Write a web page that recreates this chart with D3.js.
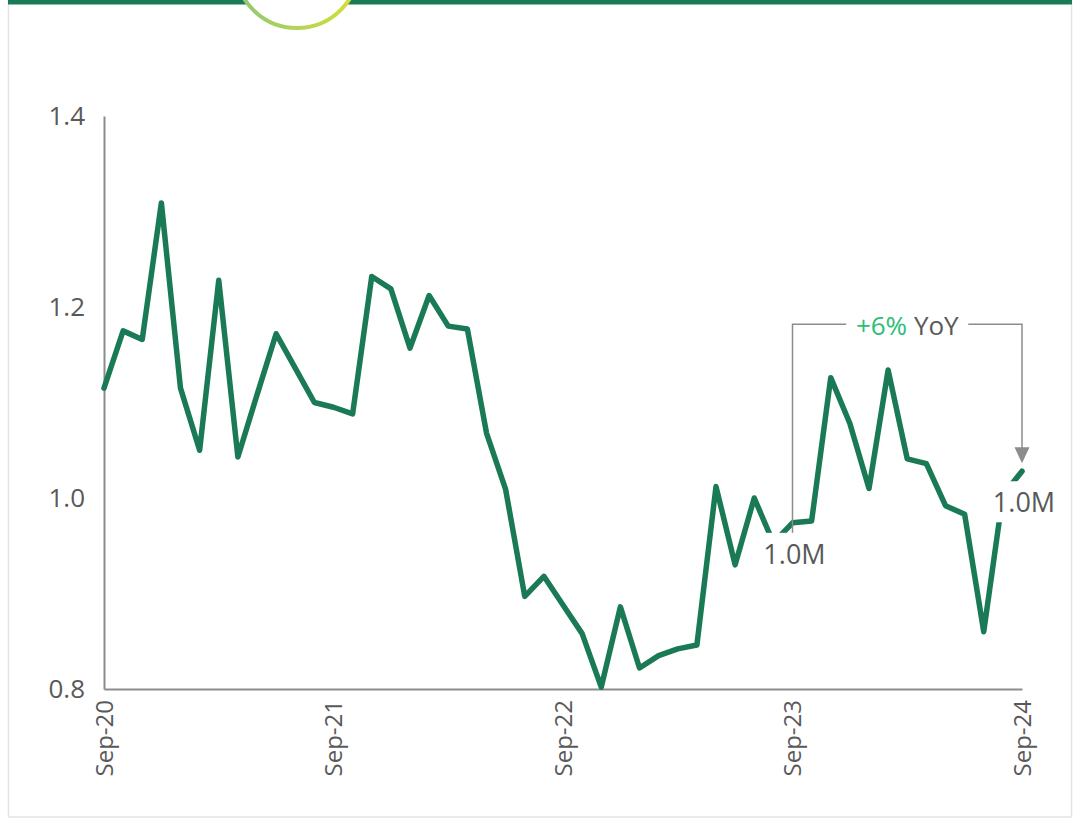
<!DOCTYPE html>
<html>
<head>
<meta charset="utf-8">
<script src="https://cdn.jsdelivr.net/npm/d3@7"></script>
<style>
  body { margin: 0; background: #fff; }
  svg { display: block; font-family: "Open Sans", "DejaVu Sans", sans-serif; }
</style>
</head>
<body>
<div id="chart"></div>
<script>
// monthly values, Sep-20 .. Sep-24 (millions)
const values = [
  1.115, 1.175, 1.166, 1.309, 1.115, 1.050, 1.228, 1.043, 1.108, 1.172,
  1.136, 1.100, 1.095, 1.088, 1.232, 1.219, 1.157, 1.212, 1.180, 1.177,
  1.068, 1.009, 0.897, 0.918, 0.888, 0.858, 0.802, 0.886, 0.822, 0.835,
  0.842, 0.846, 1.012, 0.930, 1.000, 0.953, 0.974, 0.976, 1.126, 1.078,
  1.010, 1.134, 1.041, 1.036, 0.992, 0.983, 0.860, 1.003, 1.028
];
const tickLabels = ["Sep-20", "Sep-21", "Sep-22", "Sep-23", "Sep-24"];
const yTicks = [0.8, 1.0, 1.2, 1.4];
const labelled = [36, 48];          // indexes of the "1.0M" labels
const yoyText = ["+6%", " YoY"];
const bracketLevel = 1.182;

const fmtMonth = d3.utcFormat("%b-%y");
const months = d3.utcMonth.range(new Date(Date.UTC(2020, 8, 1)), new Date(Date.UTC(2024, 9, 1))).map(fmtMonth);
const data = months.map((m, i) => ({ m: m, v: values[i] }));

const width = 1076, height = 822;
const green = "#1a7a56", grey = "#595959", lineGrey = "#8c8c8c";

const svg = d3.select("#chart").append("svg")
  .attr("width", width)
  .attr("height", height);

// card frame
svg.append("rect")
  .attr("x", 8.5).attr("y", -2)
  .attr("width", 1063).attr("height", 819)
  .attr("fill", "#fff")
  .attr("stroke", "#e4e4e4").attr("stroke-width", 1.5);

svg.append("rect")
  .attr("x", 8).attr("y", 0)
  .attr("width", 1064).attr("height", 4.5)
  .attr("fill", green);

const defs = svg.append("defs");
const grad = defs.append("linearGradient").attr("id", "arcGrad")
  .attr("x1", "0%").attr("x2", "100%").attr("y1", "0%").attr("y2", "0%");
grad.append("stop").attr("offset", "0%").attr("stop-color", "#8fc878");
grad.append("stop").attr("offset", "100%").attr("stop-color", "#d6e034");

svg.append("circle")
  .attr("cx", 297).attr("cy", -34).attr("r", 62)
  .attr("fill", "#fff")
  .attr("stroke", "url(#arcGrad)").attr("stroke-width", 4);

const x = d3.scalePoint()
  .domain(months)
  .range([104, 1022]);

const y = d3.scaleLinear()
  .domain([0.8, 1.4])
  .range([689, 116]);

// y axis
const gy = svg.append("g")
  .attr("transform", "translate(104,0)")
  .call(d3.axisLeft(y).tickValues(yTicks).tickFormat(d3.format(".1f")).tickSize(0).tickPadding(19));
gy.select(".domain").attr("stroke", lineGrey).attr("stroke-width", 2);
gy.selectAll("text").attr("fill", grey).style("font-size", "26px").style("font-family", "Open Sans");

// x axis
const gx = svg.append("g")
  .attr("transform", "translate(0,689)")
  .call(d3.axisBottom(x).tickValues(tickLabels).tickSize(0).tickSizeOuter(0));
gx.select(".domain").attr("stroke", lineGrey).attr("stroke-width", 2);
gx.selectAll("text")
  .attr("fill", grey)
  .style("font-size", "24px")
  .style("font-family", "Open Sans")
  .style("text-anchor", "end")
  .attr("x", -11).attr("y", 0).attr("dy", "0.35em")
  .attr("transform", "rotate(-90)");

// series line
const line = d3.line()
  .x(d => x(d.m))
  .y(d => y(d.v));

svg.append("path")
  .datum(data)
  .attr("fill", "none")
  .attr("stroke", green)
  .attr("stroke-width", 5.5)
  .attr("stroke-linejoin", "round")
  .attr("stroke-linecap", "round")
  .attr("d", line);

// YoY bracket
const a = data[labelled[0]], b = data[labelled[1]];
const xa = x(a.m), xb = x(b.m), yb = y(bracketLevel);
const xm = (xa + xb) / 2;

svg.append("path")
  .attr("fill", "none")
  .attr("stroke", lineGrey).attr("stroke-width", 1.5)
  .attr("d", `M${xa},${y(a.v) + 14}V${yb}H${xm - 61}M${xm + 61},${yb}H${xb}V${y(b.v) - 23}`);

svg.append("path")
  .attr("fill", lineGrey)
  .attr("d", `M${xb - 7.5},${y(b.v) - 24}L${xb + 7.5},${y(b.v) - 24}L${xb},${y(b.v) - 8}Z`);

const yoy = svg.append("text")
  .attr("x", xm).attr("y", yb + 11)
  .attr("text-anchor", "middle")
  .style("font-size", "26px");
yoy.append("tspan").attr("fill", "#2dbd78").text(yoyText[0]);
yoy.append("tspan").attr("fill", grey).text(yoyText[1]);

// data labels with white boxes
labelled.forEach(i => {
  const d = data[i];
  const cx = x(d.m), top = y(d.v) + 10;
  svg.append("rect")
    .attr("x", cx - 34).attr("y", top)
    .attr("width", 68).attr("height", 41)
    .attr("fill", "#fff");
  svg.append("text")
    .attr("x", cx + 2).attr("y", top + 31)
    .attr("text-anchor", "middle")
    .attr("fill", grey)
    .style("font-size", "27px")
    .text(d3.format(".1f")(d.v) + "M");
});
</script>
</body>
</html>
